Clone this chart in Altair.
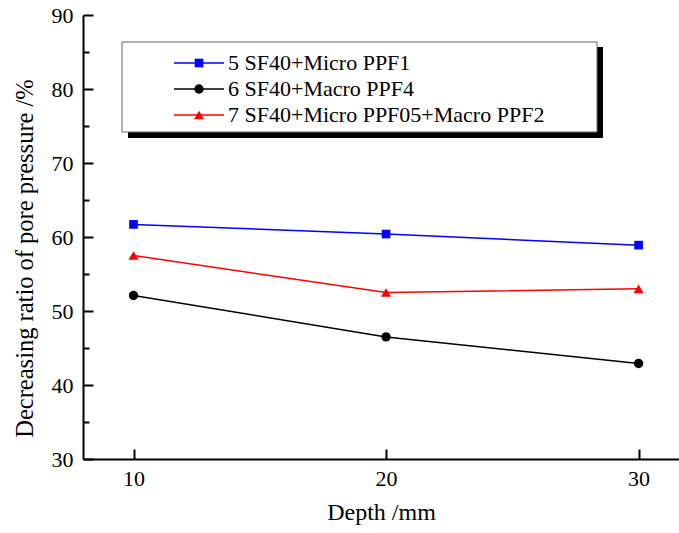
import altair as alt
import pandas as pd

# Depth of the measuring point (mm)
depth = [10, 20, 30]

# Series names as shown in the legend, and the short specimen numbers
series_names = [
    "5 SF40+Micro PPF1",
    "6 SF40+Macro PPF4",
    "7 SF40+Micro PPF05+Macro PPF2",
]
specimen_ids = ["5", "6", "7"]

# Decreasing ratio of pore pressure (%)
micro_ppf1 = [61.7, 60.4, 58.9]
macro_ppf4 = [52.1, 46.5, 42.9]
micro_macro = [57.5, 52.5, 53.0]

colors = ["#0000ff", "#000000", "#ff0000"]
shapes = ["square", "circle", "triangle-up"]
marker_areas = [75, 100, 230]

y_major = [30, 40, 50, 60, 70, 80, 90]
y_minor = [35, 45, 55, 65, 75, 85]
x_ticks = [10, 20, 30]

rows = []
for name, sid, vals in zip(series_names, specimen_ids, [micro_ppf1, macro_ppf4, micro_macro]):
    for d, v in zip(depth, vals):
        rows.append({"depth": d, "ratio": v, "series": name, "specimen": sid})
df = pd.DataFrame(rows)

W, H = 596, 444
FONT = "Liberation Serif"
LABEL_SIZE = 22
LEGEND_SIZE = 22

xs = alt.Scale(domain=[8, 31.6], nice=False, zero=False)
ys = alt.Scale(domain=[30, 90], nice=False, zero=False)

base = alt.Chart(df)

# Legend frame with a drop shadow
frame_src = alt.Chart(pd.DataFrame({"k": [0]}))
shadow = frame_src.mark_rect(color="black").encode(
    x=alt.value(45), x2=alt.value(520), y=alt.value(32), y2=alt.value(123)
)
box = frame_src.mark_rect(fill="white", stroke="#666666", strokeWidth=1).encode(
    x=alt.value(39), x2=alt.value(514), y=alt.value(27), y2=alt.value(117)
)

# Lines with the main axes (labels + titles) and the line part of the legend
lines = base.mark_line(strokeWidth=1.5).encode(
    x=alt.X(
        "depth:Q",
        scale=xs,
        axis=alt.Axis(
            values=x_ticks, ticks=False, grid=False, domainWidth=2, domainColor="black",
            labelFont=FONT, labelFontSize=LABEL_SIZE, labelColor="black", labelPadding=9,
            title="Depth /mm", titleFont=FONT, titleFontSize=24,
            titleFontWeight="normal", titleColor="black", titlePadding=11,
        ),
    ),
    y=alt.Y(
        "ratio:Q",
        scale=ys,
        axis=alt.Axis(
            values=y_major, ticks=False, grid=False, domainWidth=2, domainColor="black",
            labelFont=FONT, labelFontSize=LABEL_SIZE, labelColor="black", labelPadding=10,
            title="Decreasing ratio of pore pressure /%", titleFont=FONT,
            titleFontSize=24.5, titleFontWeight="normal", titleColor="black",
            titleX=-58, titleY=243, titleBaseline="middle",
        ),
    ),
    color=alt.Color(
        "series:N",
        scale=alt.Scale(domain=series_names, range=colors),
        legend=alt.Legend(
            orient="none", legendX=105, legendY=37, title=None, padding=0,
            symbolType="M-5,0H5", symbolSize=100, symbolStrokeWidth=1.5,
            labelFont=FONT, labelFontSize=LEGEND_SIZE, labelColor="black", labelOffset=18,
            rowPadding=4, labelLimit=400, zindex=1,
        ),
    ),
)

# Markers, carrying the inward major ticks and the marker part of the legend
points = base.mark_point(filled=True, opacity=1).encode(
    x=alt.X(
        "depth:Q",
        scale=xs,
        axis=alt.Axis(
            orient="top", offset=-H, values=x_ticks, tickSize=10, tickWidth=2,
            tickColor="black", labels=False, domain=False, grid=False, title=None,
        ),
    ),
    y=alt.Y(
        "ratio:Q",
        scale=ys,
        axis=alt.Axis(
            orient="right", offset=-W, values=y_major, tickSize=10, tickWidth=2,
            tickColor="black", labels=False, domain=False, grid=False, title=None,
        ),
    ),
    fill=alt.Fill(
        "specimen:O",
        scale=alt.Scale(domain=specimen_ids, range=colors),
        legend=alt.Legend(
            orient="none", legendX=105, legendY=37, title=None, padding=0,
            symbolStrokeWidth=0, labelExpr="''",
            labelFont=FONT, labelFontSize=LEGEND_SIZE, labelOffset=18,
            rowPadding=4, zindex=2,
        ),
    ),
    shape=alt.Shape("specimen:O", scale=alt.Scale(domain=specimen_ids, range=shapes)),
    size=alt.Size("specimen:O", scale=alt.Scale(domain=specimen_ids, range=marker_areas)),
)

# Invisible layer that carries the inward minor ticks on the y axis
minor = base.mark_point(opacity=0).encode(
    x=alt.X("depth:Q", scale=xs, axis=None),
    y=alt.Y(
        "ratio:Q",
        scale=ys,
        axis=alt.Axis(
            orient="right", offset=-W, values=y_minor, tickSize=6, tickWidth=2,
            tickColor="black", labels=False, domain=False, grid=False, title=None,
        ),
    ),
)

chart = (
    alt.layer(shadow, box, lines, points, minor)
    .resolve_axis(x="independent", y="independent")
    .properties(
        width=W,
        height=H,
        autosize=alt.AutoSizeParams(type="none"),
        padding={"left": 83, "top": 15, "right": 0, "bottom": 74},
        background="white",
    )
    .configure_view(strokeWidth=0)
    .configure_axis(labelFont=FONT, titleFont=FONT)
    .configure_legend(labelFont=FONT)
)

chart.save("out.html", embed_options={"renderer": "svg", "actions": False})
